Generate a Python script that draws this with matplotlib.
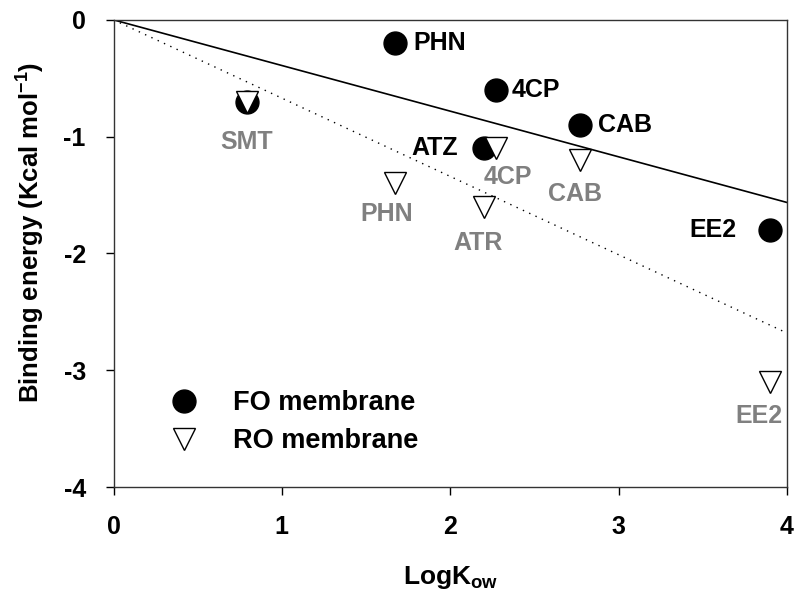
import matplotlib
matplotlib.use("Agg")
import matplotlib.pyplot as plt
import numpy as np

plt.rcParams["font.family"] = ["Liberation Sans", "DejaVu Sans"]
plt.rcParams["font.weight"] = "bold"
plt.rcParams["axes.unicode_minus"] = False
plt.rcParams["mathtext.fontset"] = "custom"
plt.rcParams["mathtext.rm"] = "Liberation Sans:bold"
plt.rcParams["mathtext.bf"] = "Liberation Sans:bold"
plt.rcParams["mathtext.default"] = "bf"

# FO membrane
fo_names = ["SMT", "PHN", "4CP", "CAB", "ATZ", "EE2"]
fo_logkow = [0.79, 1.67, 2.27, 2.77, 2.20, 3.90]
fo_energy = [-0.7, -0.2, -0.6, -0.9, -1.1, -1.8]

# RO membrane
ro_names = ["SMT", "PHN", "4CP", "CAB", "ATR", "EE2"]
ro_logkow = [0.79, 1.67, 2.27, 2.77, 2.20, 3.90]
ro_energy = [-0.7, -1.4, -1.1, -1.2, -1.6, -3.1]

# label offsets in pixels (dx, dy, ha)
fo_offsets = {"SMT": None, "PHN": (19, 0, "left"), "4CP": (16, 0, "left"),
              "CAB": (18, 0, "left"), "ATZ": (-26, 0, "right"), "EE2": (-34, 0, "right")}
ro_offsets = {"SMT": (0, -40, "center"), "PHN": (-8, -31, "center"), "4CP": (12, -29, "center"),
              "CAB": (-5, -34, "center"), "ATR": (-6, -36, "center"), "EE2": (-11, -34, "center")}

fig = plt.figure(figsize=(7.94, 6.02), dpi=100)
ax = fig.add_axes([0.143, 0.191, 0.848, 0.776])

# linear fits through origin
xs = np.array([0, 4])
fo_x, fo_y = np.array(fo_logkow), np.array(fo_energy)
ro_x, ro_y = np.array(ro_logkow), np.array(ro_energy)
fo_slope = (fo_x * fo_y).sum() / (fo_x ** 2).sum()
ro_slope = (ro_x * ro_y).sum() / (ro_x ** 2).sum()
ax.plot(xs, fo_slope * xs, color="black", lw=1.2, zorder=1)
ax.plot(xs, ro_slope * xs, color="black", lw=1.0, ls=(0, (1, 4)), zorder=1)

ax.plot(fo_logkow, fo_energy, "o", ms=16.5, color="black", ls="none", zorder=2, label="FO membrane")
ax.plot(ro_logkow, ro_energy, "v", ms=16, mfc="white", mec="black", mew=1, ls="none",
        zorder=3, label="RO membrane")

px2pt = 0.72
for name, x, y in zip(fo_names, fo_logkow, fo_energy):
    off = fo_offsets[name]
    if off is None:
        continue
    ax.annotate(name, (x, y), xytext=(off[0] * px2pt, off[1] * px2pt), textcoords="offset points",
                ha=off[2], va="center", fontsize=18, fontweight="bold", color="black")
for name, x, y in zip(ro_names, ro_logkow, ro_energy):
    off = ro_offsets[name]
    ax.annotate(name, (x, y), xytext=(off[0] * px2pt, off[1] * px2pt), textcoords="offset points",
                ha=off[2], va="center", fontsize=18, fontweight="bold", color="#808080")

ax.set_xlim(0, 4)
ax.set_ylim(-4, 0)
ax.set_xticks([0, 1, 2, 3, 4])
ax.set_yticks([0, -1, -2, -3, -4])
ax.tick_params(direction="out", length=6, width=1, labelsize=18, pad=14)
for lab in ax.get_xticklabels() + ax.get_yticklabels():
    lab.set_fontweight("bold")
for sp in ax.spines.values():
    sp.set_linewidth(1)
    sp.set_color("#333333")

ax.set_xlabel("LogK$_{ow}$", fontsize=19, fontweight="bold", labelpad=18)
ax.set_ylabel("Binding energy (Kcal mol$^{-1}$)", fontsize=18.5, fontweight="bold")
ax.yaxis.set_label_coords(-0.099, 0.545)

ax.legend(loc="lower left", bbox_to_anchor=(0.028, 0.018), frameon=False, fontsize=19.5,
          handletextpad=0.8, labelspacing=0.45, numpoints=1)

fig.savefig("out.png", dpi=100)
